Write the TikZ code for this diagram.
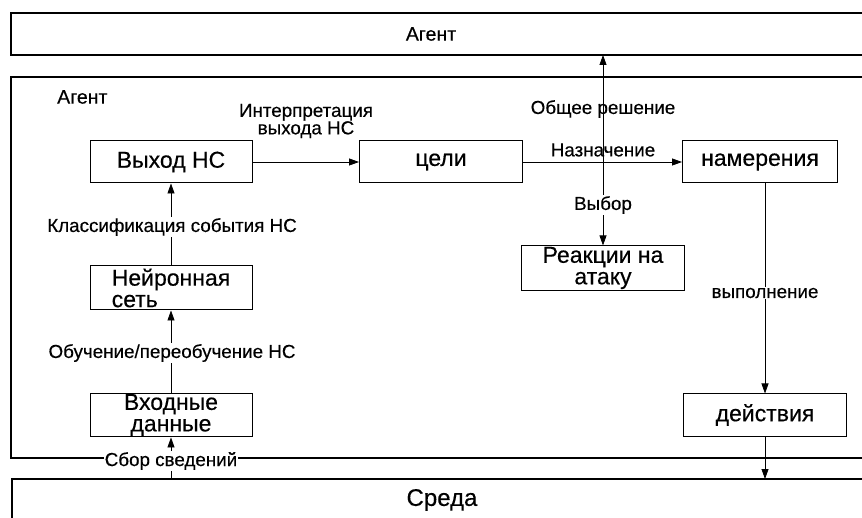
\documentclass[tikz,border=0pt]{standalone}
\usepackage{fontspec}
\setmainfont{Liberation Sans}[FakeBold=0.4,AutoFakeBold=0.4]
\usetikzlibrary{positioning,arrows.meta}
\tikzset{
  % --- blocks ----------------------------------------------------------------
  blk/.style={draw,line width=1pt,minimum height=42pt,inner sep=1pt,
              align=center,font=\bfseries\fontsize{23}{21.5}\selectfont},
  band/.style={line width=1.2pt},
  title/.style={font=\bfseries\fontsize{19.5}{21}\selectfont,inner sep=1pt},
  % --- links -----------------------------------------------------------------
  flow/.style={-{Triangle[length=10pt,width=7pt]},line width=0.8pt},
  twin/.style={{Triangle[length=10pt,width=7pt]}-{Triangle[length=10pt,width=7pt]},
               line width=0.8pt},
  lab/.style={font=\bfseries\fontsize{18.8}{17.5}\selectfont,inner sep=1pt,
              align=center},
  labw/.style={lab,fill=white},
}
\begin{document}
\begin{tikzpicture}[x=1pt, y=-1pt]
  \useasboundingbox (0,0) rectangle (862,518);
  \def\rx{875}          % bands run off the right edge

  % outer bands and the agent frame (open on the right)
  \draw[band] (\rx,13) -- (11,13) -- (11,55) -- (\rx,55);
  \draw[band] (\rx,77) -- (11,77) -- (11,458) -- (\rx,458);
  \draw[band] (\rx,479) -- (12,479) -- (12,530);

  \node[title] (agtop) at (431,34)  {Агент};
  \node[title,anchor=west] (aglab) at (56,97) {Агент};
  \node[title,font=\bfseries\fontsize{24}{26}\selectfont] (sreda)
       at (442,500) {Среда};

  % blocks
  \node[blk,minimum width=162pt] (vyhod)  at (171,162) {Выход НС};
  \node[blk,minimum width=163pt] (celi)   at (441,162) {цели};
  \node[blk,minimum width=155pt] (namer)  at (760,162) {намерения};
  \node[blk,minimum width=162pt,minimum height=44pt,align=left] (neuro)
       at (171,288) {Нейронная\\сеть};
  \node[blk,minimum width=162pt] (vhod)   at (171,415) {Входные\\данные};
  \node[blk,minimum width=163pt,minimum height=44pt] (react)
       at (603,268) {Реакции на\\атаку};
  \node[blk,minimum width=163pt] (deistv) at (765,415) {действия};

  \coordinate (dec)  at (603,55);
  \coordinate (env)  at (171,479);
  \coordinate (done) at (765,479);

  % connectors
  \draw[flow] (vyhod) -- (celi);
  \draw[flow] (celi) -- (namer);
  \draw[twin] (dec) -- (react.north);
  \draw[flow] (namer.south -| deistv) -- (deistv);
  \draw[flow] (deistv) -- (done);
  \draw[flow] (neuro) -- (vyhod);
  \draw[flow] (vhod) -- (neuro);
  \draw[flow] (env) -- (vhod);

  % labels
  \node[lab]  (interp) at (306,121) {Интерпретация\\выхода НС};
  \node[lab]  (obsh)   at (603,109) {Общее решение};
  \node[lab]  (naz)    at (603,150) {Назначение};
  \node[labw] (vyb)    at (603,205) {Выбор};
  \node[labw] (vyp)    at (765,293) {выполнение};
  \node[labw] (klass)  at (172,227) {Классификация события НС};
  \node[labw] (obuch)  at (172,353) {Обучение/переобучение НС};
  \node[labw] (sbor)   at (171,461) {Сбор сведений};
\end{tikzpicture}
\end{document}
